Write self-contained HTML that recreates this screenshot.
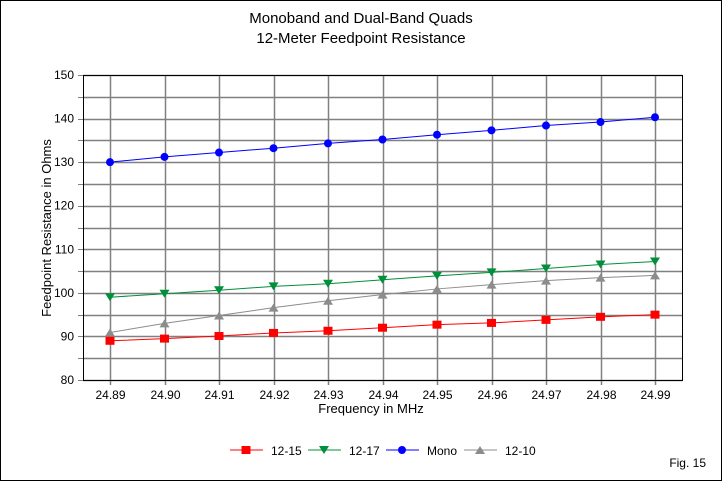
<!DOCTYPE html>
<html><head><meta charset="utf-8"><style>
html,body{margin:0;padding:0;background:#fff;}
svg{display:block;font-family:"Liberation Sans",Arial,sans-serif;}
</style></head><body>
<svg id="chart" width="722" height="481" viewBox="0 0 722 481" xmlns="http://www.w3.org/2000/svg">
<rect x="0.5" y="0.5" width="721" height="480" fill="#fff" stroke="#000"/>
<text x="361" y="23" font-size="15" text-anchor="middle">Monoband and Dual-Band Quads</text>
<text x="361" y="43" font-size="15" text-anchor="middle">12-Meter Feedpoint Resistance</text>
<g id="grid"></g>
<g id="axes"></g>
<g id="series"></g>
<text x="371" y="413" font-size="13" text-anchor="middle">Frequency in MHz</text>
<text transform="translate(51,228) rotate(-90)" font-size="13" text-anchor="middle">Feedpoint Resistance in Ohms</text>
<g id="legend"></g>
<text x="706" y="467" font-size="12" text-anchor="end">Fig. 15</text>
</svg>
<script>
const categories = ["24.89","24.90","24.91","24.92","24.93","24.94","24.95","24.96","24.97","24.98","24.99"];
const s1215 = [89.0,89.5,90.1,90.8,91.3,92.0,92.7,93.1,93.8,94.5,95.0];
const s1217 = [99.0,99.8,100.6,101.5,102.1,103.0,103.9,104.7,105.6,106.5,107.2];
const sMono = [130.0,131.2,132.2,133.2,134.3,135.2,136.3,137.3,138.4,139.2,140.3];
const s1210 = [90.9,93.0,94.8,96.6,98.2,99.6,100.9,101.9,102.8,103.5,104.0];
const yTicks = [80,90,100,110,120,130,140,150];
const seriesNames = ["12-15","12-17","Mono","12-10"];

const NS="http://www.w3.org/2000/svg";
const L=83,R=682,T=75,B=380,X0=110,X1=655;
const yMin=80,yMax=150;
function xs(i){return X0+(X1-X0)*i/(categories.length-1);}
function ys(v){return B-(v-yMin)/(yMax-yMin)*(B-T);}
function el(tag,attrs,parent){const e=document.createElementNS(NS,tag);for(const k in attrs)e.setAttribute(k,attrs[k]);parent.appendChild(e);return e;}
const grid=document.getElementById('grid'),axes=document.getElementById('axes'),series=document.getElementById('series'),legend=document.getElementById('legend');

for(let v=yMin;v<=yMax;v+=5){
  const y=Math.round(ys(v))+0.5;
  const g=el('line',{x1:L,x2:R,y1:y,y2:y,stroke:'#808080','stroke-width':1.5},grid);
  
  
  const t=el('line',{x1:L-5,x2:L,y1:y,y2:y,stroke:'#808080'},axes);
  
  
}
categories.forEach((c,i)=>{
  const x=Math.round(xs(i))+0.5;
  const g=el('line',{x1:x,x2:x,y1:T,y2:B+5,stroke:'#808080','stroke-width':1.5},grid);
  
  
  const t=el('text',{x:x,y:B+19,'font-size':12,'text-anchor':'middle'},axes);
  t.textContent=c;
  
  
});
yTicks.forEach(v=>{
  const t=el('text',{x:L-9,y:ys(v)+4,'font-size':12,'text-anchor':'end'},axes);
  t.textContent=v;
  
  
});
const box=el('rect',{x:L+0.5,y:T+0.5,width:R-L,height:B-T,fill:'none',stroke:'#000'},axes);



function marker(type,x,y,color,parent){
  let m;
  if(type==='square') m=el('rect',{x:x-4.5,y:y-4,width:9,height:8,fill:color},parent);
  else if(type==='circle') m=el('circle',{cx:x,cy:y,r:4,fill:color},parent);
  else if(type==='down') m=el('polygon',{points:`${x-5},${y-4} ${x+5},${y-4} ${x},${y+4}`,fill:color},parent);
  else m=el('polygon',{points:`${x-5},${y+4} ${x+5},${y+4} ${x},${y-4}`,fill:color},parent);
  return m;
}
const defs=[[s1215,'#ff0000','square'],[s1217,'#008f3a','down'],[sMono,'#0000ff','circle'],[s1210,'#8c8c8c','up']];
defs.forEach((d,si)=>{
  const [vals,color,type]=d;
  const pl=el('polyline',{points:vals.map((v,i)=>xs(i)+','+ys(v)).join(' '),fill:'none',stroke:color,'stroke-width':1},series);
  
  
  vals.forEach((v,i)=>{
    const m=marker(type,xs(i),ys(v),color,series);
    
    
  });
  const lx=230+si*78, ly=450;
  const ll=el('line',{x1:lx,x2:lx+33,y1:ly,y2:ly,stroke:color,'stroke-width':1},legend);
  
  
  const lm=marker(type,lx+16,ly,color,legend);
  
  
  const lt=el('text',{x:lx+41,y:ly+5,'font-size':12},legend);
  lt.textContent=seriesNames[si];
  
  
});
</script>
</body></html>
